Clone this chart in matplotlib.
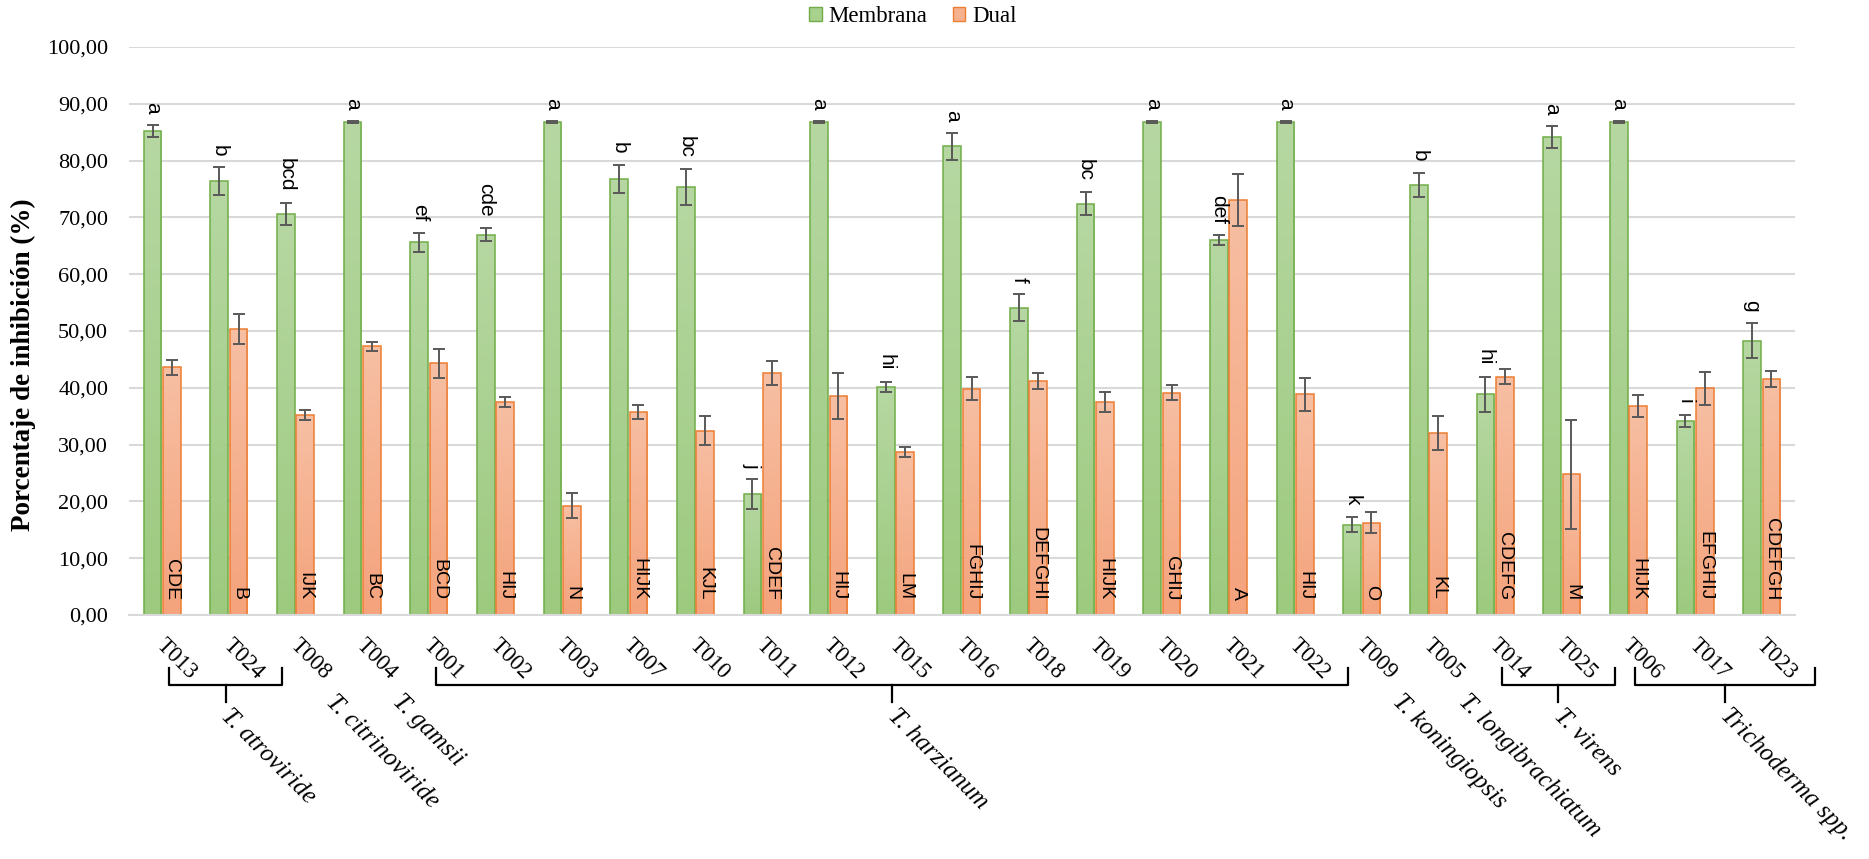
import numpy as np
import matplotlib
matplotlib.use('Agg')
import matplotlib.pyplot as plt
from matplotlib.colors import LinearSegmentedColormap
from matplotlib.patches import Patch

cepas = ['T013', 'T024', 'T008', 'T004', 'T001', 'T002', 'T003', 'T007', 'T010', 'T011',
         'T012', 'T015', 'T016', 'T018', 'T019', 'T020', 'T021', 'T022', 'T009', 'T005',
         'T014', 'T025', 'T006', 'T017', 'T023']
membrana = [85.2, 76.4, 70.65, 86.85, 65.6, 66.96, 86.85, 76.76, 75.35, 21.3,
            86.85, 40.2, 82.5, 54.1, 72.4, 86.85, 65.96, 86.85, 15.9, 75.7,
            38.85, 84.15, 86.85, 34.15, 48.3]
membrana_err = [1.0, 2.4, 1.9, 0.2, 1.7, 1.2, 0.2, 2.5, 3.2, 2.6,
                0.2, 0.9, 2.4, 2.35, 2.05, 0.2, 0.9, 0.2, 1.35, 2.1,
                3.05, 1.9, 0.2, 1.0, 3.05]
dual = [43.6, 50.35, 35.15, 47.3, 44.3, 37.56, 19.25, 35.8, 32.45, 42.6,
        38.55, 28.75, 39.85, 41.25, 37.5, 39.15, 73.0, 38.85, 16.25, 32.1,
        41.96, 24.77, 36.8, 39.9, 41.6]
dual_err = [1.3, 2.7, 0.9, 0.75, 2.55, 0.9, 2.2, 1.25, 2.6, 2.05,
            4.1, 0.9, 2.0, 1.4, 1.75, 1.3, 4.6, 2.9, 1.85, 3.0,
            1.35, 9.65, 2.0, 2.9, 1.4]
letras_m = ['a', 'b', 'bcd', 'a', 'ef', 'cde', 'a', 'b', 'bc', 'j',
            'a', 'hi', 'a', 'f', 'bc', 'a', 'def', 'a', 'k', 'b',
            'hi', 'a', 'a', 'i', 'g']
letras_d = ['CDE', 'B', 'IJK', 'BC', 'BCD', 'HIJ', 'N', 'HIJK', 'KJL', 'CDEF',
            'HIJ', 'LM', 'FGHIJ', 'DEFGHI', 'HIJK', 'GHIJ', 'A', 'HIJ', 'O', 'KL',
            'CDEFG', 'M', 'HIJK', 'EFGHIJ', 'CDEFGH']

especies = ['T. atroviride', 'T. citrinoviride', 'T. gamsii', 'T. harzianum',
            'T. koningiopsis', 'T. longibrachiatum', 'T. virens', 'Trichoderma spp.']
grupo_ini = [0, 2, 3, 4, 18, 19, 20, 22]
grupo_fin = [1, 2, 3, 17, 18, 19, 21, 24]

SERIF = 'Liberation Serif'
SANS = 'Liberation Sans'


def degradado(ax, barras, c_arriba, c_abajo):
    cmap = LinearSegmentedColormap.from_list('g', [c_abajo, c_arriba])
    grad = np.linspace(0, 1, 100).reshape(-1, 1)
    for p in barras:
        x0, w, h = p.get_x(), p.get_width(), p.get_height()
        im = ax.imshow(grad, cmap=cmap, extent=[x0, x0 + w, 0, h], origin='lower',
                       aspect='auto', zorder=1.9, interpolation='bilinear')
        im.set_clip_path(p)


fig = plt.figure(figsize=(18.69, 8.59), dpi=100)
ax = fig.add_axes([0.069, 0.284, 0.8914, 0.6613])

x = np.arange(len(cepas))
w = 0.265
off = 0.145

b1 = ax.bar(x - off, membrana, w, facecolor='none', edgecolor='#70AD47', linewidth=1.1, zorder=2)
b2 = ax.bar(x + off, dual, w, facecolor='none', edgecolor='#ED7D31', linewidth=1.1, zorder=2)
degradado(ax, b1, '#B6D7A2', '#9DCA7F')
degradado(ax, b2, '#F7BFA3', '#F4A37C')

ax.errorbar(x - off, membrana, yerr=membrana_err, fmt='none', ecolor='#595959',
            elinewidth=1.4, capsize=4, capthick=1.4, zorder=3)
ax.errorbar(x + off, dual, yerr=dual_err, fmt='none', ecolor='#595959',
            elinewidth=1.4, capsize=4, capthick=1.4, zorder=3)

# letras de significancia
for i in range(len(cepas)):
    ax.text(x[i] - off, membrana[i] + membrana_err[i] + 2, letras_m[i], rotation=-90,
            ha='center', va='bottom', fontsize=15, family=SANS, zorder=4)
    ax.text(x[i] + off, 2.6, letras_d[i], rotation=-90,
            ha='center', va='bottom', fontsize=14, family=SANS, zorder=4)

ax.set_xlim(-0.5, len(cepas) - 0.5)
ax.set_ylim(0, 100)
yt = np.arange(0, 101, 10)
ax.set_yticks(yt)
ax.set_yticklabels([('%.2f' % v).replace('.', ',') for v in yt], family=SERIF, fontsize=16)
ax.set_xticks([])
ax.tick_params(axis='y', length=0, pad=15)
ax.yaxis.grid(True, color='#D9D9D9', linewidth=1.5)
ax.set_axisbelow(True)
for s in ['top', 'right', 'left']:
    ax.spines[s].set_visible(False)
ax.spines['bottom'].set_color('#D9D9D9')
ax.spines['bottom'].set_linewidth(1.5)

trans = ax.get_xaxis_transform()
for i, c in enumerate(cepas):
    ax.text(x[i] + 0.075, -0.035, c, transform=trans, rotation=-45, rotation_mode='anchor',
            ha='left', va='top', fontsize=16.5, family=SERIF)

# llaves de especies
y_brazo, y_linea, y_tallo = -0.093, -0.123, -0.153
for nom, a, b in zip(especies, grupo_ini, grupo_fin):
    if a == b:
        ax.text(a + 0.62, -0.133, nom, transform=trans, rotation=-45, rotation_mode='anchor',
                ha='left', va='top', fontsize=18, family=SERIF, style='italic')
        continue
    x0, x1 = a + 0.1, b + 0.8
    xm = (x0 + x1) / 2
    ax.plot([x0, x0, x1, x1], [y_brazo, y_linea, y_linea, y_brazo], color='black',
            linewidth=1.6, transform=trans, clip_on=False, solid_joinstyle='round')
    ax.plot([xm, xm], [y_linea, y_tallo], color='black', linewidth=1.6,
            transform=trans, clip_on=False)
    ax.text(xm + 0.1, -0.158, nom, transform=trans, rotation=-45, rotation_mode='anchor',
            ha='left', va='top', fontsize=18, family=SERIF, style='italic')

fig.text(0.0128, 0.575, 'Porcentaje de inhibición (%)', rotation=90, ha='center', va='center',
         fontweight='bold', family=SERIF, fontsize=19.5)

handles = [Patch(facecolor='#A9D18E', edgecolor='#70AD47', label='Membrana'),
           Patch(facecolor='#F5B08E', edgecolor='#ED7D31', label='Dual')]
fig.legend(handles=handles, loc='center', bbox_to_anchor=(0.4885, 0.981), ncol=2, frameon=False,
           prop={'family': SERIF, 'size': 16.5}, handlelength=0.55, handleheight=0.55,
           handletextpad=0.3, columnspacing=1.1)

fig.savefig('out.png', dpi=100)
